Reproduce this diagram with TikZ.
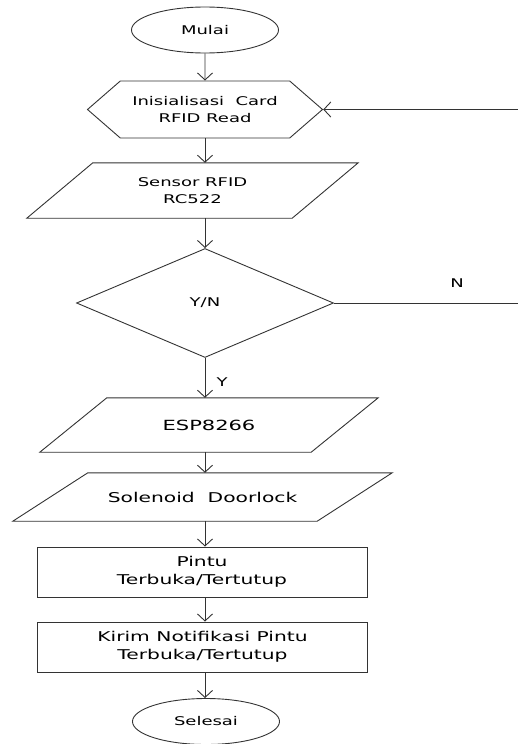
\documentclass[tikz,border=0pt]{standalone}
\usepackage{fontspec}
\newfontfamily\chartfont[FakeStretch=1.5]{DejaVu Sans}
\usetikzlibrary{arrows.meta, shapes.geometric, shapes.symbols}

\begin{document}
\begin{tikzpicture}[
  x=1pt, y=-1pt,
  every node/.style={font=\chartfont\fontsize{12}{16.5}\selectfont, text=black},
  big/.style={font=\chartfont\fontsize{13.5}{17.5}\selectfont},
  shape line/.style={draw=black!80, line width=0.9pt, inner sep=0pt, align=center},
  terminal/.style={shape line, ellipse, minimum width=147pt, minimum height=46pt},
  prep/.style={shape line, signal, signal to=west and east, signal from=nowhere,
    signal pointer angle=82, minimum width=235pt, minimum height=57pt},
  io/.style={rectangle, inner sep=0pt, align=center},
  decision/.style={shape line, diamond, minimum width=257pt, minimum height=109pt},
  process/.style={shape line, rectangle, minimum width=330pt, minimum height=50pt},
  arrow/.style={-{Straight Barb[length=7pt, width=15pt]}, draw=black!80, line width=0.9pt},
  line/.style={draw=black!80, line width=0.9pt}
]
\useasboundingbox (0,0) rectangle (518,744);

% Flow nodes (top to bottom)
\node[terminal] (mulai) at (205, 30) {Mulai};
\node[prep] (init) at (205, 109.5) {Inisialisasi\ \ Card\\RFID Read};
\node[io, minimum width=265pt, minimum height=55pt] (sensor) at (192.5, 190.5) {Sensor RFID\\RC522};
\node[decision] (cek) at (205, 303) {Y/N};
\node[io, font=\chartfont\fontsize{14}{17}\selectfont,
      minimum width=271pt, minimum height=54pt] (esp) at (209, 425) {ESP8266};
\node[io, big, minimum width=304pt, minimum height=48pt] (solenoid) at (202.5, 497) {Solenoid\ \ Doorlock};
\node[process, big] (pintu) at (202, 572) {Pintu\\Terbuka/Tertutup};
\node[process, big] (notif) at (202.5, 647) {Kirim Notifikasi Pintu\\Terbuka/Tertutup};
\node[terminal] (selesai) at (206, 721.5) {Selesai};

% Parallelogram outlines (half skew per box)
\foreach \n/\s in {sensor/33, esp/33.5, solenoid/37.5}
  \draw[line] ([xshift=\s]\n.north west) -- ([xshift=\s]\n.north east)
    -- ([xshift=-\s]\n.south east) -- ([xshift=-\s]\n.south west) -- cycle;

% Labels
\node (ylabel) at (222, 382) {Y};
\node (nlabel) at (457, 283) {N};

% Free ends on the right edge
\coordinate (nend) at (518, 303);
\coordinate (loopin) at (518, 109.5);

% Arrows
\draw[arrow] (mulai) -- (init);
\draw[arrow] (init.south) -- (init.south |- sensor.north);
\draw[arrow] (init.south |- sensor.south) -- (cek.north);
\draw[arrow] (cek.south) -- (cek.south |- esp.north);
\draw[arrow] (cek.south |- esp.south) -- (cek.south |- solenoid.north);
\draw[arrow] (cek.south |- solenoid.south) -- (cek.south |- pintu.north);
\draw[arrow] (cek.south |- pintu.south) -- (cek.south |- notif.north);
\draw[arrow] (cek.south |- notif.south) -- (cek.south |- selesai.north);

% N branch and return line
\draw[line] (cek.east) -- (nend);
\draw[arrow] (loopin) -- (init.east);

\end{tikzpicture}
\end{document}
